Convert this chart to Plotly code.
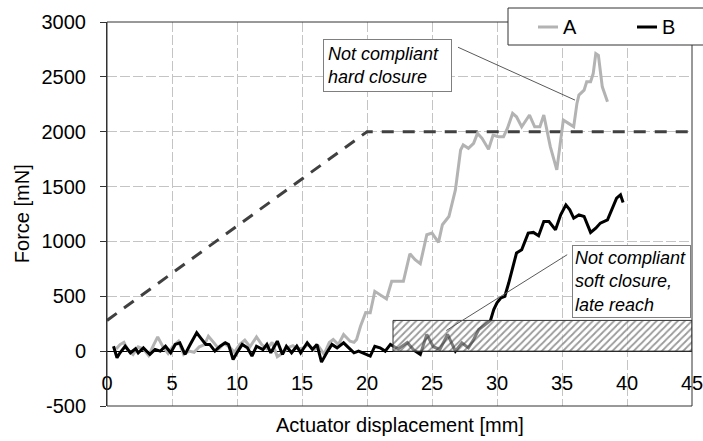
import plotly.graph_objects as go

# ---- data ----
A_x = [0.7,1.0,1.3,1.6,2.0,2.4,2.8,3.2,3.6,3.9,4.3,4.7,5.1,5.5,5.9,6.3,6.7,7.1,7.5,7.8,
       8.2,8.6,9.0,9.4,9.8,10.2,10.6,11.0,11.5,11.9,12.3,12.7,13.1,13.5,13.9,14.3,14.7,15.1,15.5,15.9,
       16.3,16.7,17.1,17.4,17.8,18.2,18.7,19.0,19.2,19.5,19.9,20.25,20.6,21.0,21.5,21.9,22.3,22.8,23.3,23.7,
       24.1,24.6,25.0,25.5,25.8,26.3,26.8,27.2,27.4,27.8,28.2,28.5,28.85,29.35,29.7,30.1,30.5,30.8,31.2,31.5,
       31.9,32.5,32.9,33.3,33.6,34.1,34.6,34.9,35.1,35.5,35.9,36.15,36.3,36.7,36.9,37.2,37.4,37.6,37.8,38.1,38.5]
A_y = [20,60,80,10,-30,40,20,-40,60,130,40,-20,50,90,-30,0,-10,40,60,136,
       80,20,70,40,-10,60,100,40,130,60,20,80,-50,-20,30,50,20,30,60,10,
       40,-30,80,106,60,152,90,80,106,227,352,350,545,515,476,636,636,636,888,834,
       797,1061,1076,991,1152,1227,1470,1833,1879,1849,1894,1985,1940,1840,1970,1955,1955,2030,2167,2136,
       2045,2152,2045,2045,2152,1864,1652,1925,2106,2076,2045,2258,2334,2379,2455,2455,2530,2713,2697,2409,2273]

B_x = [0.5,0.77,1.0,1.4,1.8,2.2,2.4,2.8,3.3,3.7,4.1,4.5,4.9,5.25,5.6,6.0,6.4,6.9,7.2,7.6,
       7.9,8.3,8.7,9.1,9.35,9.7,10.0,10.4,10.8,11.15,11.5,12.0,12.3,12.6,13.1,13.5,13.8,14.2,14.6,14.9,
       15.4,15.8,16.15,16.5,16.9,17.3,17.7,18.2,18.6,19.0,19.35,19.7,20.25,20.6,21.0,21.4,21.8,22.4,23.1,23.6,
       24.1,24.6,25.1,25.6,26.2,26.8,27.3,27.8,28.2,28.6,29.2,29.5,29.75,30.0,30.3,30.6,30.9,31.3,31.5,31.9,
       32.2,32.4,32.8,33.2,33.6,34.0,34.5,34.9,35.3,35.6,35.9,36.3,36.7,37.2,37.6,37.95,38.5,38.85,39.2,39.5,39.7]
B_y = [45,-60,-15,45,-15,22,-15,30,-30,15,0,45,-15,61,76,-30,61,167,121,61,
       61,0,45,76,61,-76,-15,61,30,-45,45,15,61,-15,91,-30,45,-15,45,-15,
       76,15,61,-100,-15,61,30,76,30,-15,0,-15,-45,45,30,0,61,20,79,10,
       -30,152,40,15,152,0,76,30,106,197,258,280,379,440,485,500,621,803,894,924,
       1015,1076,1082,1052,1182,1182,1106,1242,1333,1288,1212,1242,1227,1082,1121,1167,1197,1303,1394,1424,1355]

limit_x = [0, 20, 45]
limit_y = [280, 2000, 2000]

zone_x = [22, 45, 45, 22, 22]
zone_y = [0, 0, 280, 280, 0]

x_ticks = [0, 5, 10, 15, 20, 25, 30, 35, 40, 45]
y_ticks = [-500, 0, 500, 1000, 1500, 2000, 2500, 3000]

series_names = ["A", "B"]
series_colors = ["#b3b3b3", "#000000"]

FONT = "Liberation Sans, Arial, sans-serif"

fig = go.Figure()
fig.add_trace(go.Scatter(x=limit_x, y=limit_y, mode="lines", showlegend=False,
                         line=dict(color="#404040", width=3, dash="12px,9px")))
fig.add_trace(go.Scatter(x=A_x, y=A_y, mode="lines", name=series_names[0], showlegend=False,
                         line=dict(color=series_colors[0], width=3)))
fig.add_trace(go.Scatter(x=B_x, y=B_y, mode="lines", name=series_names[1], showlegend=False,
                         line=dict(color=series_colors[1], width=3)))
fig.add_trace(go.Scatter(x=zone_x, y=zone_y, mode="lines", fill="toself", showlegend=False,
                         line=dict(color="#333333", width=1),
                         fillcolor="rgba(255,255,255,0)",
                         fillpattern=dict(shape="/", size=5, solidity=0.35,
                                          fgcolor="#333333", bgcolor="rgba(255,255,255,0.5)")))

grid = dict(showgrid=True, gridcolor="#c4c4c4", gridwidth=1, griddash="10px,3px")

fig.update_xaxes(range=[0, 45], tickvals=x_ticks, ticktext=[str(v) for v in x_ticks],
                 anchor="free", position=500/3500, showline=False, zeroline=False,
                 automargin=False, ticklabeloverflow="allow",
                 ticks="", tickfont=dict(size=20, color="#000", family=FONT),
                 ticklabelstandoff=18, **grid)
fig.update_yaxes(range=[-500, 3000], tickvals=y_ticks, ticktext=[str(v) for v in y_ticks],
                 zeroline=True, zerolinecolor="#000000", zerolinewidth=1,
                 showline=True, linecolor="#333333", linewidth=1, automargin=False,
                 ticklabeloverflow="allow",
                 ticks="outside", ticklen=6, tickcolor="#333333",
                 tickfont=dict(size=20, color="#000", family=FONT),
                 ticklabelstandoff=10, **grid)

fig.add_shape(type="rect", xref="x domain", yref="y domain", x0=0, x1=1, y0=0, y1=1,
              line=dict(color="#333333", width=1), layer="above")

# leader lines
fig.add_shape(type="line", x0=27.0, y0=2770, x1=36.0, y1=2288,
              line=dict(color="#595959", width=1))
fig.add_shape(type="line", x0=35.4, y0=879, x1=26.1, y1=188,
              line=dict(color="#595959", width=1))

fig.add_annotation(x=21.6, y=2606, text="<i>Not compliant<br>hard closure</i>",
                   showarrow=False, align="left", width=119, borderpad=4,
                   bordercolor="#7f7f7f", borderwidth=1, bgcolor="#ffffff",
                   font=dict(size=18, color="#000", family=FONT))
fig.add_annotation(x=40.37, y=634, text="<i>Not compliant<br>soft closure,<br>late reach</i>",
                   showarrow=False, align="left", width=113, borderpad=2,
                   bordercolor="#7f7f7f", borderwidth=1, bgcolor="#ffffff",
                   font=dict(size=18, color="#000", family=FONT))

fig.add_annotation(xref="paper", yref="paper", x=-0.145, y=0.5, xanchor="center",
                   yanchor="middle", text="Force [mN]",
                   textangle=-90, showarrow=False, font=dict(size=20, color="#000", family=FONT))
fig.add_annotation(xref="paper", yref="paper", x=0.5, y=-0.05, xanchor="center",
                   yanchor="middle", text="Actuator displacement [mm]", showarrow=False,
                   font=dict(size=20, color="#000", family=FONT))

# legend box (drawn manually so it does not push the plot margins)
W, H = 703, 441
L, R, T, B = 107, 11, 22, 35
pw, ph = W - L - R, H - T - B
def px(xp):
    return (xp - L) / pw
def py(yp):
    return (H - B - yp) / ph

fig.add_shape(type="rect", xref="paper", yref="paper", x0=px(508), x1=px(704), y0=py(45), y1=py(8),
              line=dict(color="#333333", width=1), fillcolor="#ffffff", layer="above")
for i, (nm, col) in enumerate(zip(series_names, series_colors)):
    x0 = 538 + i * 99
    fig.add_shape(type="line", xref="paper", yref="paper", x0=px(x0), x1=px(x0 + 20),
                  y0=py(27), y1=py(27), line=dict(color=col, width=3), layer="above")
    fig.add_annotation(xref="paper", yref="paper", x=px(x0 + 23), y=py(27), xanchor="left",
                       yanchor="middle", text=nm, showarrow=False,
                       font=dict(size=20, color="#000", family=FONT))

fig.update_layout(
    width=W, height=H, autosize=False,
    margin=dict(l=L, r=R, t=T, b=B, pad=0),
    paper_bgcolor="#ffffff", plot_bgcolor="#ffffff",
    font=dict(family=FONT, size=20, color="#000"),
    showlegend=False,
)

fig.write_html("out.html", config={"displayModeBar": False},
               post_script="document.body.style.margin='0';document.body.style.padding='0';"
                           "document.body.style.overflow='hidden';")
